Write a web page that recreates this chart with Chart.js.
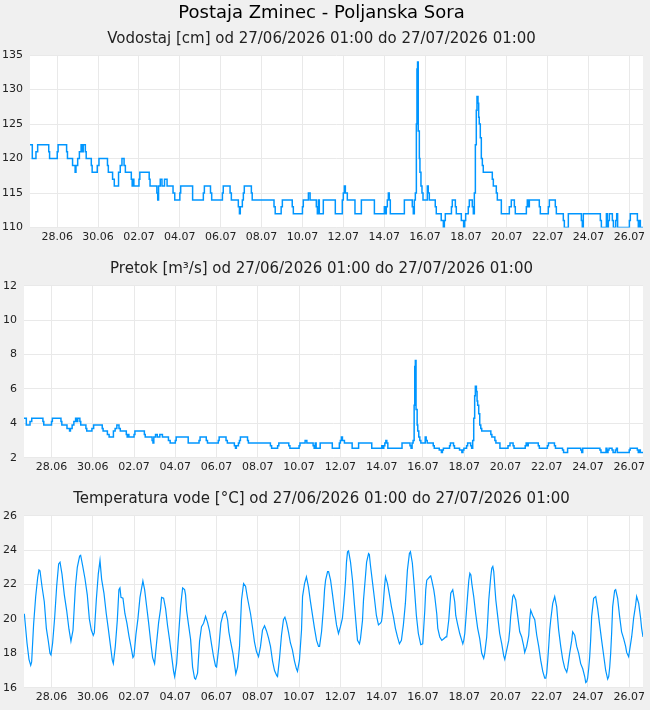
<!DOCTYPE html>
<html>
<head>
<meta charset="utf-8">
<title>Postaja Zminec - Poljanska Sora</title>
<script src="https://cdn.jsdelivr.net/npm/chart.js@4.4.1/dist/chart.umd.min.js"></script>
<style>
  html, body { margin: 0; padding: 0; background: #f0f0f0; }
  canvas { position: absolute; left: 0; }
  #vodostajChart { top: 0; }
  #pretokChart { top: 250px; }
  #tempChart { top: 480px; }
</style>
</head>
<body>
<canvas id="vodostajChart" width="650" height="250"></canvas>
<canvas id="pretokChart" width="650" height="230"></canvas>
<canvas id="tempChart" width="650" height="230"></canvas>
<script>
// hours after 27/06/2026 01:00 where the reading changes
const hours = [0,2.7,7,9,22,23,32,33,43,44,
  50,53,54,56,58,60,61.5,62.5,65,66,
  72,73,79,81,91,92,97,99,104,106,
  108,110.5,112,119,120,121,122,128,129,140,
  141,149,150,151,153,155,158,161,168,170,
  176,177,191,203.6,204.8,212,213.4,226,227,235,
  236.5,244.7,246,247,249.4,250.6,251.7,260,261,286.6,
  288,295,296.4,308,309.3,320,321,327,329,336.3,
  337.5,338.7,339.8,344.5,358.6,366.8,368,369.2,370.4,372.7,
  381.7,389.2,404.5,416.2,417.3,418.5,419.7,420.9,422,423.2,
  439.7,449,450.2,451.4,452.6,453.8,454.5,455.2,456,457.3,
  458,459.2,460.4,461.6,466.7,467.8,469,476,477.2,483,
  485.5,486.7,487.8,495,496,499.6,500.7,506.6,509.3,510.5,
  511.7,514.8,516,519.5,520.7,521.9,523.1,524.2,525,526.2,
  527,527.7,528.9,530.1,531.3,532.4,543,544.2,547.7,548.9,
  553.6,563,565.3,568.9,570,583,584.1,585.3,586.5,598.2,
  599.4,608.8,610,617,618.2,626.4,627.6,632.3,647.6,648.7,
  649.9,669.9,671.1,677,678.1,679.3,680.5,684,685.2,687.9,
  689.1,690.2,704,705.1,713.4,714.5,715.7,716.9,720];

// water level [cm]
const vodostaj = [122,120,121,122,121,120,121,122,121,120,
  119,118,119,120,121,122,121,122,121,120,
  119,118,119,120,119,118,117,116,118,119,
  120,119,118,117,116,117,116,117,118,117,
  116,115,114,116,117,116,117,116,115,114,
  115,116,114,115,116,115,114,115,116,115,
  114,113,112,113,114,115,116,115,114,113,
  112,113,114,113,112,113,114,115,114,113,
  112,114,112,114,112,114,115,116,115,114,
  112,114,112,113,112,113,114,115,114,112,
  114,113,112,114,115,125,133,134,124,120,
  118,116,115,114,116,115,114,113,112,111,
  110,111,112,113,114,113,112,111,110,111,
  112,113,114,113,112,115,122,127,129,128,
  126,125,123,120,119,118,117,116,115,114,
  112,113,114,113,112,113,114,113,114,113,
  112,113,114,113,112,111,110,112,111,110,
  112,111,110,112,110,111,112,111,110,111,
  112,110,111,112,111,110,111,110,110];

// discharge [m3/s]
const pretok = [4.3,3.9,4.1,4.3,4.1,3.9,4.1,4.3,4.1,3.9,
  3.7,3.55,3.7,3.9,4.1,4.3,4.1,4.3,4.1,3.9,
  3.7,3.55,3.7,3.9,3.7,3.55,3.35,3.2,3.55,3.7,
  3.9,3.7,3.55,3.35,3.2,3.35,3.2,3.35,3.55,3.35,
  3.2,3.0,2.85,3.2,3.35,3.2,3.35,3.2,3.0,2.85,
  3.0,3.2,2.85,3.0,3.2,3.0,2.85,3.0,3.2,3.0,
  2.85,2.7,2.55,2.7,2.85,3.0,3.2,3.0,2.85,2.7,
  2.55,2.7,2.85,2.7,2.55,2.7,2.85,3.0,2.85,2.7,
  2.55,2.85,2.55,2.85,2.55,2.85,3.0,3.2,3.0,2.85,
  2.55,2.85,2.55,2.7,2.55,2.7,2.85,3.0,2.85,2.55,
  2.85,2.7,2.55,2.85,3.0,5.05,7.3,7.65,4.8,3.9,
  3.55,3.2,3.0,2.85,3.2,3.0,2.85,2.7,2.55,2.45,
  2.3,2.45,2.55,2.7,2.85,2.7,2.55,2.45,2.3,2.45,
  2.55,2.7,2.85,2.7,2.55,3.0,4.3,5.6,6.15,5.85,
  5.3,5.05,4.55,3.9,3.7,3.55,3.35,3.2,3.0,2.85,
  2.55,2.7,2.85,2.7,2.55,2.7,2.85,2.7,2.85,2.7,
  2.55,2.7,2.85,2.7,2.55,2.45,2.3,2.55,2.45,2.3,
  2.55,2.45,2.3,2.55,2.3,2.45,2.55,2.45,2.3,2.45,
  2.55,2.3,2.45,2.55,2.45,2.3,2.45,2.3,2.3];

// water temperature [hour, °C]
const temperatura = [[0.4,20.3],[3.5,18.6],[5.8,17.65],[7.8,17.3],[8.9,17.5],[11.2,19.7],[13.6,21.3],[15.9,22.4],[17.4,22.85],[18.6,22.8],[20.9,21.9],[23.6,21.0],[26,19.45],[28.3,18.7],[30.2,18.0],[31.4,17.9],[33.3,18.6],[35.7,20.1],[38,21.9],[40.3,23.2],[41.9,23.3],[44.2,22.6],[46.9,21.4],[49.6,20.5],[52.3,19.4],[54.6,18.7],[57,19.35],[59.7,21.8],[62,23.0],[64.7,23.65],[65.9,23.7],[68.2,23.1],[70.9,22.35],[73.6,21.4],[76,20.0],[78.3,19.35],[80.6,19.05],[81.8,19.2],[84.1,21.1],[86.4,22.6],[88.4,23.4],[90.3,22.3],[93,21.5],[95.7,20.3],[98,19.45],[100.4,18.5],[102.7,17.6],[103.9,17.4],[106.2,18.4],[108.5,19.9],[110.4,21.7],[111.6,21.8],[112.8,21.25],[115.1,21.2],[117.4,20.3],[119.7,19.75],[122.1,19.0],[124.4,18.4],[126.7,17.75],[127.9,17.85],[130.2,19.1],[132.5,20.0],[134.9,21.25],[137.2,21.9],[138.3,22.2],[140.3,21.7],[142.6,20.75],[144.9,19.8],[147.3,18.7],[149.6,17.75],[151.9,17.4],[154.2,18.6],[156.6,19.8],[158.9,20.6],[160,21.25],[162.4,21.2],[164.7,20.6],[167,19.6],[169.3,18.8],[171.7,17.85],[174,16.95],[175.2,16.65],[177.5,17.4],[179.8,19.05],[182.1,20.7],[184.5,21.8],[186.8,21.7],[187.9,21.4],[189.1,20.5],[191.4,19.65],[193.8,18.8],[196.1,17.2],[198.4,16.55],[199.6,16.5],[201.9,16.85],[204.2,18.7],[206.5,19.55],[208.9,19.75],[211.2,20.15],[213.5,19.8],[215.8,19.3],[218.2,18.5],[220.5,17.8],[222.8,17.25],[224,17.2],[226.7,18.4],[229,19.75],[231.7,20.3],[234.4,20.45],[236.8,19.95],[238.3,19.25],[240.6,18.6],[243,18.0],[245.3,17.2],[246.4,16.8],[248.4,17.2],[250.7,18.4],[253,21.1],[255.4,22.05],[257.7,21.9],[260,21.2],[263.5,20.3],[265.8,19.5],[268.1,18.65],[270.4,18.1],[272.8,17.8],[275.1,18.4],[277.4,19.35],[279.8,19.6],[282.1,19.3],[284.4,18.9],[286.7,18.4],[289.1,17.55],[291.4,17.0],[294,16.7],[294.9,16.65],[297.2,17.7],[299.5,19.05],[301.8,19.95],[303.5,20.1],[305.3,19.8],[307.6,19.25],[309.9,18.6],[312.2,18.2],[314.6,17.55],[316.9,17.1],[318.1,16.95],[320.4,17.6],[322.8,19.35],[324,21.3],[326.3,22.05],[328.5,22.45],[330.9,21.85],[333.2,21.0],[335.6,20.2],[337.9,19.45],[340.3,18.75],[342.6,18.4],[343.8,18.4],[346.1,19.25],[348.4,20.7],[349.6,21.7],[350.8,22.25],[353.1,22.75],[354.3,22.75],[356.6,22.25],[358.9,21.4],[361.2,20.5],[363.5,19.65],[365.8,19.15],[368.1,19.55],[370.4,20.05],[371.6,20.7],[372.8,21.4],[374,22.25],[375.1,23.3],[376.3,23.9],[377.5,23.95],[379.8,23.3],[382.1,22.25],[384.4,20.8],[386.7,19.45],[387.9,18.75],[390.2,18.55],[391.4,18.85],[393.7,19.9],[394.9,21.1],[397.3,22.55],[398.5,23.3],[400.8,23.8],[401.7,23.75],[402.9,23.15],[405.3,22.15],[407.6,21.2],[409.9,20.2],[412.3,19.65],[414.6,19.75],[415.8,19.85],[417,20.3],[418.2,21.1],[419.3,21.85],[420.5,22.45],[422.8,22.05],[425.1,21.4],[427.4,20.7],[429.8,20.1],[432,19.45],[434.4,18.95],[436.7,18.55],[439,18.75],[441.3,19.65],[443.6,20.9],[444.8,21.9],[446,22.85],[448.3,23.8],[449.5,23.9],[451.7,23.25],[454.1,21.8],[456.4,20.2],[458.7,19.15],[461.5,18.5],[463.8,18.55],[466.2,20.5],[467.3,21.7],[468.5,22.25],[472,22.45],[473.1,22.5],[474.3,22.25],[476.6,21.7],[477.8,21.3],[480.1,20.3],[481.3,19.45],[483.6,18.95],[486,18.75],[488.3,18.85],[490.6,18.95],[491.7,18.95],[494.1,19.95],[495.2,20.7],[496.4,21.5],[498.7,21.7],[501,21.0],[502.2,20.2],[504.5,19.65],[506.8,19.15],[509.2,18.75],[510.4,18.55],[511.5,18.75],[512.7,19.15],[513.9,19.95],[515,20.7],[516.2,21.5],[517.4,22.25],[518.6,22.65],[519.8,22.55],[520.9,22.05],[523.1,21.3],[525.4,20.3],[527.7,19.45],[530.1,18.85],[532.4,18.0],[534.7,17.7],[535.9,18.0],[538.2,18.95],[539.4,19.95],[540.6,21.1],[542.9,22.45],[544.1,22.95],[545.3,23.05],[546.4,22.75],[547.6,21.9],[548.8,21.1],[551,20.15],[553.3,19.15],[555.7,18.55],[558,17.85],[559.2,17.65],[561.5,18.2],[563.8,18.75],[565,19.35],[566.1,20.15],[567.3,20.7],[568.5,21.3],[569.6,21.4],[572,21.1],[574.3,20.15],[576.6,19.25],[578.9,18.95],[581.3,18.4],[582.4,18.05],[584.7,18.4],[587.1,19.05],[588.2,19.95],[589.4,20.5],[591.7,20.2],[594.1,19.95],[596.4,19.05],[598.7,18.4],[601,17.6],[603.4,16.95],[605.7,16.55],[606.9,16.55],[608,16.85],[609.2,17.6],[610.3,18.4],[611.5,19.35],[612.7,19.95],[615,20.9],[617.3,21.3],[619.6,20.7],[621.9,19.35],[624.3,18.4],[626.6,17.65],[628.9,17.15],[631.3,16.9],[632.4,17.15],[634.7,18.0],[637.1,18.75],[638.2,19.25],[640.6,19.05],[642.9,18.4],[645.2,18.0],[647.5,17.4],[649.9,17.1],[652.2,16.65],[653.4,16.3],[654.5,16.35],[655.6,16.55],[656.8,17.1],[658,17.8],[659.1,18.75],[660.3,20.15],[662.6,21.2],[665,21.3],[667.3,20.6],[669.6,19.65],[671.9,18.75],[674.2,17.9],[676.6,17.0],[678.9,16.5],[680.1,16.65],[681.3,17.2],[682.4,18.0],[683.5,19.15],[684.7,20.7],[687,21.65],[688.2,21.7],[690.5,21.2],[692.8,20.15],[695.1,19.25],[697.5,18.85],[699.8,18.4],[701,18.05],[703.3,17.8],[704.5,18.2],[706.8,18.95],[707.9,19.45],[709.1,20.05],[711.4,20.8],[712.6,21.3],[715,20.9],[717.2,20.05],[718.4,19.45],[720,18.95]];

// x axis labels, every second day
const dayLabels = ['28.06','30.06','02.07','04.07','06.07','08.07','10.07','12.07','14.07','16.07','18.07','20.07','22.07','24.07','26.07'];
const dayTicks = dayLabels.map((d, i) => 32 + 48 * i);

const FONT = 'DejaVu Sans';
const LINE = '#0096ff';
const GRID = '#e9e9e9';

// white plot area on grey page
const plotBg = {
    id: 'plotBg',
    beforeDraw(chart) {
        const a = chart.chartArea;
        chart.ctx.save();
        chart.ctx.fillStyle = '#ffffff';
        chart.ctx.fillRect(a.left, a.top, a.right - a.left, a.bottom - a.top);
        chart.ctx.restore();
    }
};

function makeChart(id, cfg) {
    return new Chart(document.getElementById(id), {
        type: 'line',
        data: {
            datasets: [{
                data: cfg.points,
                borderColor: LINE,
                borderWidth: cfg.lineWidth,
                stepped: cfg.stepped,
                pointRadius: 0,
                fill: false
            }]
        },
        options: {
            responsive: false,
            animation: false,
            events: [],
            layout: { padding: { left: 0, right: 7, top: 0, bottom: 0 } },
            plugins: {
                legend: { display: false },
                tooltip: { enabled: false },
                title: cfg.title,
                subtitle: cfg.subtitle || { display: false }
            },
            scales: {
                x: {
                    type: 'linear', min: 0, max: 720,
                    afterBuildTicks: s => { s.ticks = dayTicks.map(v => ({ value: v })); },
                    afterFit: s => { s.height = cfg.xHeight; },
                    ticks: {
                        callback: (v, i) => dayLabels[i],
                        autoSkip: false, maxRotation: 0, padding: 3,
                        color: '#222', font: { family: FONT, size: 11 }
                    },
                    grid: { color: GRID, drawTicks: false },
                    border: { display: false }
                },
                y: {
                    min: cfg.yMin, max: cfg.yMax,
                    afterFit: s => { s.width = cfg.yWidth; },
                    ticks: {
                        stepSize: cfg.yStep, padding: 7,
                        color: '#222', font: { family: FONT, size: 11 }
                    },
                    grid: { color: GRID, drawTicks: false },
                    border: { display: false }
                }
            }
        },
        plugins: [plotBg]
    });
}

function panelTitle(text, top, bottom) {
    return {
        display: true, text: text, color: '#222',
        font: { family: FONT, size: 15, weight: 'normal' },
        padding: { top: top, bottom: bottom }
    };
}

makeChart('vodostajChart', {
    points: hours.map((h, i) => ({ x: h, y: vodostaj[i] })),
    stepped: true, lineWidth: 1.5,
    yMin: 110, yMax: 135, yStep: 5, yWidth: 30, xHeight: 22.5,
    title: {
        display: true, text: 'Postaja Zminec - Poljanska Sora', color: '#000',
        font: { family: FONT, size: 18, weight: 'normal' },
        padding: { top: 3, bottom: 0 }
    },
    subtitle: panelTitle('Vodostaj [cm] od 27/06/2026 01:00 do 27/07/2026 01:00', 6, 6.5)
});

makeChart('pretokChart', {
    points: hours.map((h, i) => ({ x: h, y: pretok[i] })),
    stepped: true, lineWidth: 1.5,
    yMin: 2, yMax: 12, yStep: 2, yWidth: 24, xHeight: 22.3,
    title: panelTitle('Pretok [m³/s] od 27/06/2026 01:00 do 27/07/2026 01:00', 10, 7.7)
});

makeChart('tempChart', {
    points: temperatura.map(p => ({ x: p[0], y: p[1] })),
    stepped: false, lineWidth: 1.2,
    yMin: 16, yMax: 26, yStep: 2, yWidth: 24, xHeight: 22.3,
    title: panelTitle('Temperatura vode [°C] od 27/06/2026 01:00 do 27/07/2026 01:00', 10, 7.7)
});
</script>
</body>
</html>
